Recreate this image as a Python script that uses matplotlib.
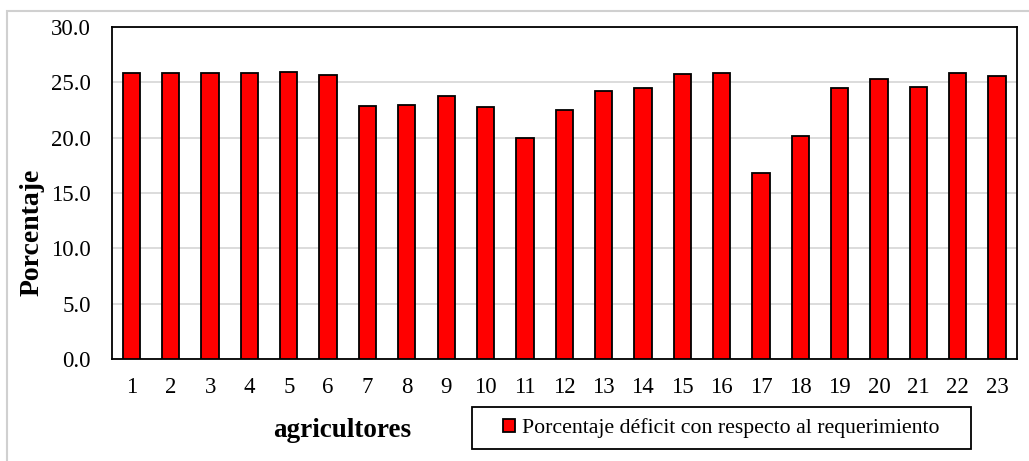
import numpy as np
import matplotlib
matplotlib.use("Agg")
from matplotlib import pyplot as plt
from matplotlib.patches import Rectangle
from matplotlib.ticker import FormatStrFormatter

agricultores = [str(i) for i in range(1, 24)]
porcentaje = [25.85, 25.85, 25.85, 25.85, 25.9, 25.6, 22.85, 22.9, 23.75, 22.8,
              20.0, 22.45, 24.2, 24.5, 25.75, 25.85, 16.8, 20.15, 24.5, 25.3,
              24.55, 25.8, 25.55]
legend_label = "Porcentaje déficit con respecto al requerimiento"

plt.rcParams['font.family'] = ['Liberation Serif', 'DejaVu Serif']

W, H = 1029, 461
fig = plt.figure(figsize=(W / 100, H / 100), dpi=100)
ax = fig.add_axes([111.7 / W, 1 - 359.3 / H, 905 / W, 332.6 / H])

x = np.arange(1, len(agricultores) + 1)
ax.bar(x, porcentaje, width=0.44, color='#ff0000', edgecolor='black',
       linewidth=1.3, zorder=3, label=legend_label)

ax.set_xlim(0.5, len(agricultores) + 0.5)
ax.set_ylim(0, 30)
ax.set_yticks(np.arange(0, 30.1, 5))
ax.yaxis.set_major_formatter(FormatStrFormatter('%.1f'))
ax.set_xticks(x)
ax.set_xticklabels(agricultores)
ax.tick_params(axis='both', length=0, labelsize=16.5)
ax.tick_params(axis='x', pad=13)
ax.tick_params(axis='y', pad=15)
ax.grid(axis='y', color='#d9d9d9', linewidth=1.3, zorder=0)
for s in ax.spines.values():
    s.set_color('black')
    s.set_linewidth(1.3)

ax.set_ylabel('Porcentaje', fontsize=20, fontweight='bold')
ax.yaxis.set_label_coords((32 - 111.7) / 905, (359.3 - 232) / 332.6)
ax.yaxis.label.set_va('center')
ax.set_xlabel('agricultores', fontsize=19.5, fontweight='bold')
ax.xaxis.set_label_coords((342 - 111.7) / 905, (359.3 - 430) / 332.6)
ax.xaxis.label.set_va('center')

# legend, with a wide box drawn like the reference
leg = fig.legend(loc='center', bbox_to_anchor=(721.5 / W, 1 - 428 / H),
                 fontsize=15.7, frameon=False, handlelength=0.55,
                 handleheight=0.55, handletextpad=0.3, borderpad=0.2)
fig.patches.append(Rectangle((472 / W, 1 - 449 / H), 499 / W, 42 / H,
                             transform=fig.transFigure, fill=False,
                             edgecolor='black', linewidth=1.3))

# light outer chart border (right and bottom edges fall outside the image)
fig.patches.append(Rectangle((6.7 / W, -0.1), 1.2, 1.1 - 10.7 / H,
                             transform=fig.transFigure, fill=False,
                             edgecolor='#d0d0d0', linewidth=1.5))

fig.savefig('out.png', dpi=100)
